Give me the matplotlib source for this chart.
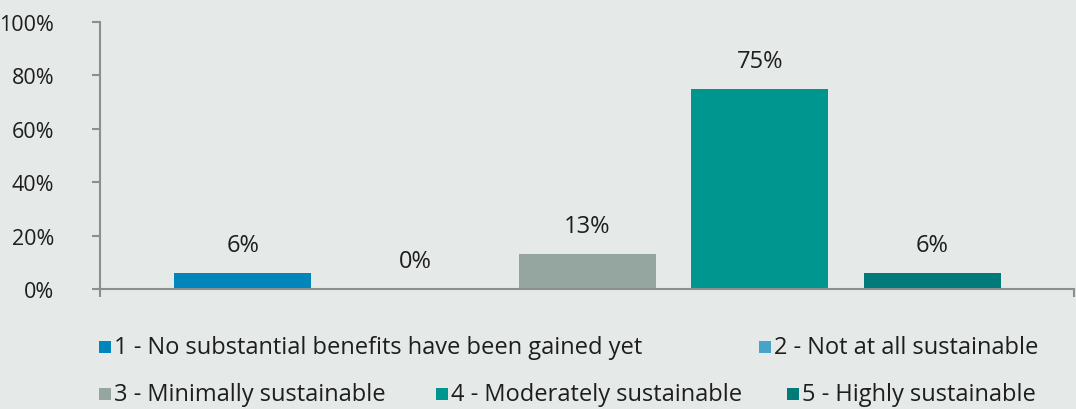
import matplotlib.pyplot as plt
from matplotlib.patches import Rectangle

categories = [
    "1 - No substantial benefits have been gained yet",
    "2 - Not at all sustainable",
    "3 - Minimally sustainable",
    "4 - Moderately sustainable",
    "5 - Highly sustainable",
]
values = [6, 0, 13, 75, 6]
colors = ["#0086BA", "#47A3C8", "#95A6A1", "#009690", "#007B79"]
y_ticks = [0, 20, 40, 60, 80, 100]

bg = "#E5E9E8"
axis_col = "#8E8E8E"
text_col = "#1E1E1E"

plt.rcParams["font.family"] = ["Open Sans", "DejaVu Sans"]

fig = plt.figure(figsize=(10.76, 4.1), dpi=100, facecolor=bg)
ax = fig.add_axes([100 / 1076, 120 / 410, 974 / 1076, 267 / 410], facecolor=bg)

x = list(range(len(categories)))
ax.bar(x, values, width=0.795, color=colors, zorder=2)
for xi, v in zip(x, values):
    ax.text(xi, v + 6, f"{v}%", ha="center", va="bottom",
            fontsize=17, color=text_col)

ax.set_xlim(-0.827, 4.823)
ax.set_ylim(0, 100)
ax.set_yticks(y_ticks)
ax.set_yticklabels([f"{t}%" for t in y_ticks], fontsize=15.5, color=text_col)
ax.set_xticks([-0.827, 4.823])
ax.set_xticklabels(["", ""])
ax.tick_params(axis="both", color=axis_col, width=1.5, length=6)
ax.tick_params(axis="y", pad=27)

for side in ["top", "right"]:
    ax.spines[side].set_visible(False)
for side in ["left", "bottom"]:
    ax.spines[side].set_color(axis_col)
    ax.spines[side].set_linewidth(1.5)
ax.spines["left"].set_bounds(0, 100)

# legend laid out in two rows
legend_pos = [(99, 348), (759, 348), (99, 395), (436, 395), (787, 395)]
W, H = 1076, 410
sq = 12
for (px, py), name, c in zip(legend_pos, categories, colors):
    fig.patches.append(Rectangle((px / W, (H - py - sq / 2) / H), sq / W, sq / H,
                                 transform=fig.transFigure, facecolor=c,
                                 edgecolor="none"))
    fig.text((px + sq + 3) / W, (H - py) / H, name, ha="left", va="center",
             fontsize=17, color=text_col)

fig.savefig("out.png", dpi=100, facecolor=bg)
